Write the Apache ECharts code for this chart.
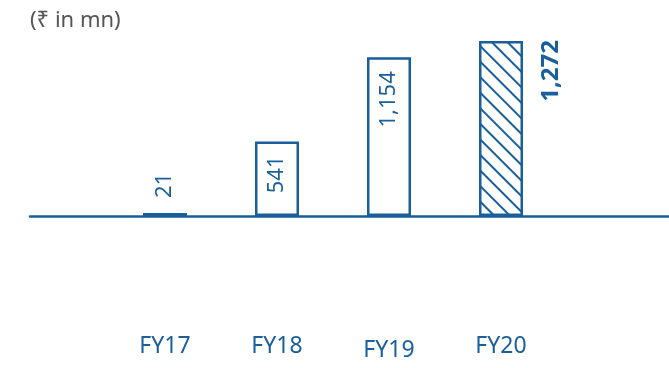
<!DOCTYPE html>
<html>
<head>
<meta charset="utf-8">
<script src="https://cdn.jsdelivr.net/npm/echarts@6/dist/echarts.min.js"></script>
<style>
html,body{margin:0;padding:0;background:#fff}
#chart{width:669px;height:368px}
</style>
</head>
<body>
<div id="chart"></div>
<script>
var categories = ['FY17', 'FY18', 'FY19', 'FY20'];
var values = [21, 541, 1154, 1272];
var valueLabels = ['21', '541', '1,154', '1,272'];

var blue = '#185f9c';
var font = '"Noto Sans", "Open Sans", sans-serif';

function getData(){
	var arr = [];
	for(var i = 0; i < values.length; i++){
		var obj = {
			value: values[i],
			label: {
				show: true,
				formatter: valueLabels[i],
				rotate: 90,
				position: 'insideTop',
				align: 'right',
				verticalAlign: 'middle',
				distance: 14
			}
		};
		if(i == 0){
			obj.label.position = 'top';
			obj.label.align = 'left';
			obj.label.distance = 15;
		}
		if(i == values.length - 1){
			// offset is in the rotated frame: [along text, across text]
			obj.label.offset = [1, 50];
			obj.label.distance = 0;
			obj.label.fontWeight = 'bold';
			obj.label.fontSize = 24;
			obj.itemStyle = {
				color: '#fff',
				decal: {
					symbol: 'rect',
					color: blue,
					backgroundColor: '#fff',
					dashArrayX: [[1, 0]],
					dashArrayY: [2, 9],
					rotation: Math.PI / 4
				}
			};
		}
		arr.push(obj);
	}
	return arr;
}

var myChart = echarts.init(document.getElementById('chart'));
var option = {
	animation: false,
	title: {
		text: '(₹ in mn)',
		left: 30,
		top: 10,
		padding: 0,
		textStyle: {color: '#555', fontSize: 22, fontWeight: 'normal', fontFamily: font}
	},
	grid: [
		{left: 109, right: 112, top: 41, bottom: 152},
		{left: 30, right: 0, top: 41, bottom: 152}
	],
	xAxis: [
		{
			type: 'category',
			gridIndex: 0,
			data: categories,
			axisLine: {show: false},
			axisTick: {show: false},
			axisLabel: {
				interval: 0,
				color: blue, fontSize: 23, fontFamily: font, margin: 119,
				formatter: function(v){ return v == 'FY19' ? '{low|' + v + '}' : v; },
				rich: {low: {color: blue, fontSize: 23, fontFamily: font, padding: [4, 0, 0, 0]}}
			}
		},
		{
			type: 'value',
			gridIndex: 1,
			min: 0, max: 1,
			axisLine: {show: true, lineStyle: {color: blue, width: 2.5}},
			axisTick: {show: false},
			axisLabel: {show: false},
			splitLine: {show: false}
		}
	],
	yAxis: [
		{type: 'value', gridIndex: 0, min: 0, max: 1272, show: false},
		{type: 'value', gridIndex: 1, min: 0, max: 1, show: false}
	],
	series: [{
		type: 'bar',
		xAxisIndex: 0,
		yAxisIndex: 0,
		barWidth: 44,
		data: getData(),
		itemStyle: {color: '#fff', borderColor: blue, borderWidth: 2.5},
		label: {color: blue, fontSize: 22, fontFamily: font},
		z: 3
	}]
};
myChart.setOption(option);
</script>
</body>
</html>
